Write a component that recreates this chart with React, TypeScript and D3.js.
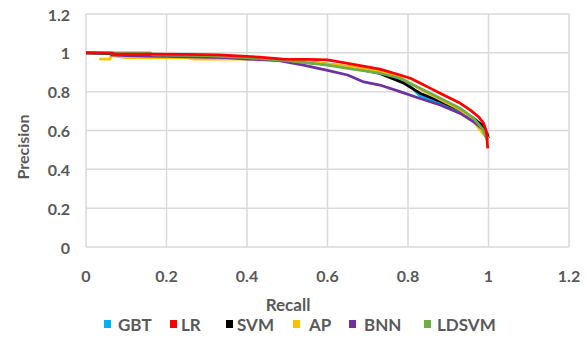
import React from "react";
import * as d3 from "d3";

const xTicks = [0, 0.2, 0.4, 0.6, 0.8, 1, 1.2];
const yTicks = [0, 0.2, 0.4, 0.6, 0.8, 1, 1.2];

const gbt: [number, number][] = [
  [0, 1], [0.1, 0.995], [0.2, 0.99], [0.3, 0.985], [0.4, 0.975], [0.5, 0.962], [0.6, 0.943],
  [0.65, 0.928], [0.7, 0.912], [0.73, 0.9], [0.79, 0.852], [0.81, 0.82], [0.83, 0.778],
  [0.88, 0.74], [0.93, 0.69], [0.963, 0.654], [0.984, 0.62], [1.0, 0.57],
];
const lr: [number, number][] = [
  [0, 1], [0.065, 1.0], [0.07, 0.994], [0.25, 0.992], [0.33, 0.99], [0.43, 0.978], [0.49, 0.968],
  [0.55, 0.966], [0.6, 0.964], [0.65, 0.946], [0.73, 0.916], [0.78, 0.886], [0.806, 0.869],
  [0.831, 0.843], [0.856, 0.817], [0.881, 0.791], [0.905, 0.766], [0.93, 0.74], [0.955, 0.705],
  [0.975, 0.671], [0.988, 0.637], [0.995, 0.594], [0.998, 0.508],
];
const svm: [number, number][] = [
  [0, 1], [0.1, 0.995], [0.2, 0.99], [0.3, 0.985], [0.4, 0.975], [0.48, 0.964], [0.6, 0.94],
  [0.65, 0.928], [0.73, 0.894], [0.79, 0.843], [0.831, 0.791], [0.881, 0.749], [0.93, 0.705],
  [0.963, 0.663], [0.988, 0.62], [1.0, 0.56],
];
const ap: [number, number][] = [
  [0.033, 0.968], [0.06, 0.968], [0.062, 0.985], [0.1, 0.975], [0.25, 0.975], [0.27, 0.968],
  [0.45, 0.968], [0.5, 0.96], [0.6, 0.943], [0.65, 0.93], [0.73, 0.905], [0.78, 0.875],
  [0.83, 0.813], [0.88, 0.76], [0.93, 0.707], [0.963, 0.647], [0.988, 0.58], [1.0, 0.56],
];
const bnn: [number, number][] = [
  [0.06, 0.99], [0.1, 0.985], [0.35, 0.975], [0.4, 0.968], [0.48, 0.96], [0.54, 0.937],
  [0.6, 0.91], [0.65, 0.886], [0.69, 0.85], [0.73, 0.834], [0.78, 0.8], [0.83, 0.765],
  [0.88, 0.731], [0.93, 0.688], [0.963, 0.645], [0.988, 0.603], [1.0, 0.577],
];
const ldsvm: [number, number][] = [
  [0, 1], [0.16, 1.0], [0.165, 0.99], [0.3, 0.985], [0.4, 0.975], [0.5, 0.96], [0.6, 0.937],
  [0.65, 0.92], [0.73, 0.895], [0.78, 0.869], [0.83, 0.818], [0.88, 0.766], [0.93, 0.714],
  [0.963, 0.663], [0.984, 0.611], [0.997, 0.551],
];

const seriesNames = ["GBT", "LR", "SVM", "AP", "BNN", "LDSVM"];
const seriesColors = ["#00B0F0", "#FF0000", "#000000", "#FFC000", "#7030A0", "#70AD47"];
const seriesData = [gbt, lr, svm, ap, bnn, ldsvm];
const drawOrder = [0, 2, 3, 4, 5, 1];
const legendSquareX = [104, 170, 226, 293, 349, 424];
const legendTextX = [118, 181, 237, 309, 364, 437];

const W = 587;
const H = 339;
const left = 86, right = 569, top = 14, bottom = 247;
const font = "Lato, 'Open Sans', sans-serif";
const textColor = "#595959";

export default function App() {
  const x = d3.scaleLinear().domain([0, 1.2]).range([left, right]);
  const y = d3.scaleLinear().domain([0, 1.2]).range([bottom, top]);
  const line = d3
    .line<[number, number]>()
    .x((d) => x(d[0]))
    .y((d) => y(d[1]));

  return (
    <svg
      width={W}
      height={H}
      style={{ position: "absolute", left: 0, top: 0, background: "#fff" }}
    >
      {xTicks.map((t) => (
        <line key={"gx" + t} x1={x(t)} x2={x(t)} y1={top} y2={bottom} stroke="#d9d9d9" strokeWidth={1.5} />
      ))}
      {yTicks.map((t) => (
        <line key={"gy" + t} x1={left} x2={right} y1={y(t)} y2={y(t)} stroke="#d9d9d9" strokeWidth={1.5} />
      ))}
      {yTicks.map((t) => (
        <text
          key={"ty" + t}
          x={70}
          y={y(t)}
          textAnchor="end"
          dominantBaseline="central"
          fontFamily={font}
          fontWeight={700}
          fontSize={16}
          fill={textColor}
        >
          {d3.format("~g")(t)}
        </text>
      ))}
      {xTicks.map((t) => (
        <text
          key={"tx" + t}
          x={x(t)}
          y={275}
          textAnchor="middle"
          dominantBaseline="central"
          fontFamily={font}
          fontWeight={700}
          fontSize={16}
          fill={textColor}
        >
          {d3.format("~g")(t)}
        </text>
      ))}
      {drawOrder.map((i) => (
        <path
          key={"s" + i}
          d={line(seriesData[i]) || ""}
          fill="none"
          stroke={seriesColors[i]}
          strokeWidth={2.75}
          strokeLinejoin="round"
        />
      ))}
      <text
        x={288}
        y={304}
        textAnchor="middle"
        dominantBaseline="central"
        fontFamily={font}
        fontWeight={700}
        fontSize={17}
        fill={textColor}
      >
        Recall
      </text>
      <text
        transform="translate(22,147) rotate(-90)"
        textAnchor="middle"
        dominantBaseline="central"
        fontFamily={font}
        fontWeight={700}
        fontSize={16}
        fill={textColor}
      >
        Precision
      </text>
      {seriesNames.map((n, i) => (
        <g key={"lg" + n}>
          <rect x={legendSquareX[i]} y={320} width={7} height={8} fill={seriesColors[i]} />
          <text
            x={legendTextX[i]}
            y={324}
            dominantBaseline="central"
            fontFamily={font}
            fontWeight={700}
            fontSize={17}
            fill={textColor}
          >
            {n}
          </text>
        </g>
      ))}
    </svg>
  );
}
